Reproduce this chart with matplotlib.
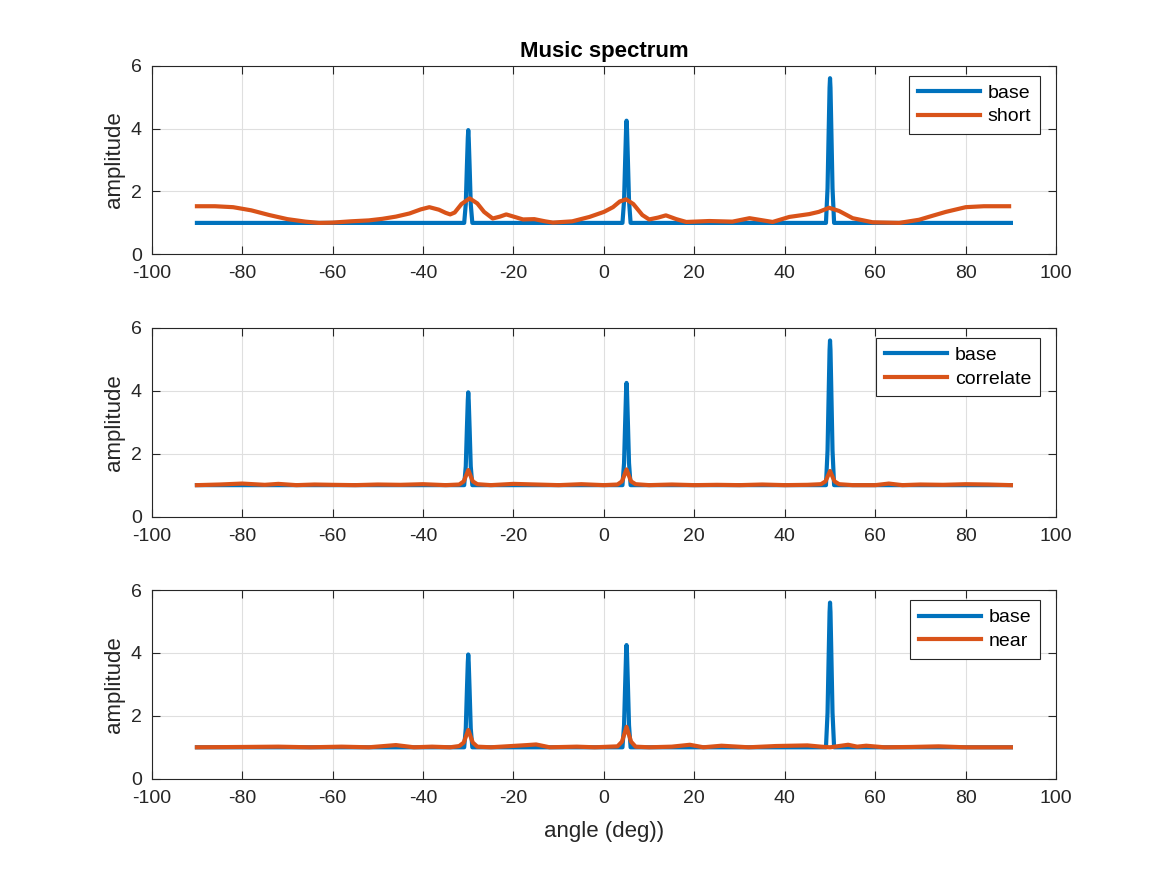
import numpy as np
import matplotlib
matplotlib.use('Agg')
from matplotlib import pyplot as plt

plt.rcParams['font.family'] = ['Liberation Sans', 'DejaVu Sans']
plt.rcParams['axes.unicode_minus'] = False

## data

# base spectrum (same in the three panels)
base_x = [-90, -32, -30.9, -30.55, -30.3, -30.1, -30, -29.9, -29.7, -29.45, -29.1, -28,
          3, 4.1, 4.45, 4.7, 4.9, 5, 5.1, 5.3, 5.55, 5.9, 7,
          48, 49.1, 49.45, 49.7, 49.9, 50, 50.1, 50.3, 50.55, 50.9, 52, 90]
base_y = [1.0, 1.0, 1.0, 1.6, 2.8, 3.7, 3.95, 3.7, 2.8, 1.6, 1.0, 1.0,
          1.0, 1.0, 1.7, 3.0, 4.0, 4.25, 4.0, 3.0, 1.7, 1.0, 1.0,
          1.0, 1.0, 2.1, 3.9, 5.3, 5.6, 5.3, 3.9, 2.1, 1.0, 1.0, 1.0]

# short snapshots
short_x = [-90, -86, -82, -78, -74, -70, -66, -63, -60, -56, -52, -49, -46, -43,
           -40.5, -38.6, -36.5, -35, -34, -33, -31.5, -29.7, -28, -26.5, -24.6, -23, -21.6, -19.5, -17.9,
           -15.4, -13, -11.3, -7, -3.2, 0, 2, 3.5, 4.9, 6.5, 8.5, 10, 12, 13.7, 16, 18.2, 23.3, 28.4,
           32.2, 37.3, 41, 45.4, 47.5, 49.8, 52, 55, 59.4, 65.3, 69.7, 72.5,
           75.6, 80, 84, 89.6]
short_y = [1.53, 1.53, 1.5, 1.4, 1.25, 1.12, 1.04, 1.0, 1.01, 1.05, 1.08, 1.13, 1.2, 1.3,
           1.43, 1.5, 1.42, 1.32, 1.27, 1.33, 1.6, 1.78, 1.62, 1.35, 1.14, 1.2, 1.27, 1.18, 1.11,
           1.12, 1.05, 1.01, 1.05, 1.19, 1.35, 1.5, 1.68, 1.75, 1.6, 1.25, 1.11, 1.17, 1.24, 1.12, 1.03, 1.06, 1.04,
           1.15, 1.03, 1.19, 1.28, 1.35, 1.48, 1.38, 1.15, 1.02, 1.0, 1.1, 1.22,
           1.35, 1.5, 1.53, 1.53]

# correlated sources
corr_x = [-90, -85, -80, -75, -72, -68, -64, -60, -55, -50, -45, -40, -35, -32,
          -31, -30, -29, -28, -25, -20, -15, -10, -5, 0, 3, 4, 5, 6, 7,
          10, 15, 20, 25, 30, 35, 40, 45, 48, 49, 50, 51, 52, 55, 60, 63, 66,
          70, 75, 80, 85, 90]
corr_y = [1.0, 1.02, 1.05, 1.01, 1.04, 1.0, 1.02, 1.01, 1.0, 1.02, 1.01, 1.03, 1.0, 1.02,
          1.12, 1.48, 1.12, 1.03, 1.0, 1.04, 1.02, 1.0, 1.03, 1.0, 1.02, 1.12, 1.5, 1.12, 1.03,
          1.0, 1.02, 1.0, 1.01, 1.0, 1.02, 1.0, 1.01, 1.03, 1.12, 1.45, 1.12, 1.03, 1.0, 1.0, 1.05, 1.0,
          1.02, 1.01, 1.03, 1.02, 1.0]

# near sources
near_x = [-90, -80, -72, -65, -58, -52, -46, -42, -38, -34, -32, -31, -30, -29, -28,
          -25, -17, -15, -12, -6, -2, 3, 4, 5, 6, 7, 10, 15, 19, 22, 26, 32, 38,
          45, 48, 50, 52, 54, 56, 58, 62, 68, 74, 80, 90]
near_y = [1.0, 1.01, 1.02, 1.0, 1.02, 1.0, 1.07, 1.0, 1.02, 1.0, 1.04, 1.15, 1.55, 1.15, 1.02,
          1.0, 1.07, 1.09, 1.0, 1.02, 1.0, 1.03, 1.18, 1.65, 1.18, 1.02, 1.0, 1.02, 1.08, 1.0, 1.05, 1.0, 1.04,
          1.06, 1.02, 1.0, 1.04, 1.08, 1.02, 1.05, 1.0, 1.01, 1.03, 1.0, 1.0]

panels = [('short', short_x, short_y), ('correlate', corr_x, corr_y), ('near', near_x, near_y)]

blue = '#0072BD'
orange = '#D95319'
dark = '#262626'

fig = plt.figure(figsize=(11.67, 8.75), dpi=100)
bottoms = [0.7093, 0.4096, 0.11]

for i, (name, xs, ys) in enumerate(panels):
    ax = fig.add_axes([0.13, bottoms[i], 0.775, 0.2157])
    ax.plot(base_x, base_y, color=blue, lw=3, label='base', solid_joinstyle='round')
    ax.plot(xs, ys, color=orange, lw=3, label=name, solid_joinstyle='round')
    ax.set_xlim(-100, 100)
    ax.set_ylim(0, 6)
    ax.set_xticks(np.arange(-100, 101, 20))
    ax.set_yticks([0, 2, 4, 6])
    ax.grid(True, color='#dfdfdf', lw=0.8)
    ax.set_axisbelow(True)
    ax.tick_params(direction='in', top=True, right=True, length=6, width=0.8,
                   labelsize=14, colors=dark)
    ax.tick_params(axis='x', pad=8)
    ax.tick_params(axis='y', pad=7)
    for s in ax.spines.values():
        s.set_color(dark)
        s.set_linewidth(0.8)
    ax.set_ylabel('amplitude', fontsize=16, color=dark, labelpad=4)
    leg = ax.legend(loc='upper right', bbox_to_anchor=(1 - 16/905, 1 - 10/188),
                    borderaxespad=0, fontsize=14, handlelength=3.2, fancybox=False,
                    framealpha=1, edgecolor=dark, borderpad=0.45,
                    labelspacing=0.3, handletextpad=0.4)
    leg.get_frame().set_linewidth(0.8)
    if i == 0:
        ax.set_title('Music spectrum', fontsize=16, fontweight='bold', pad=6)
    if i == 2:
        ax.set_xlabel('angle (deg))', fontsize=16, color=dark, labelpad=10)

fig.savefig('out.png', dpi=100)
